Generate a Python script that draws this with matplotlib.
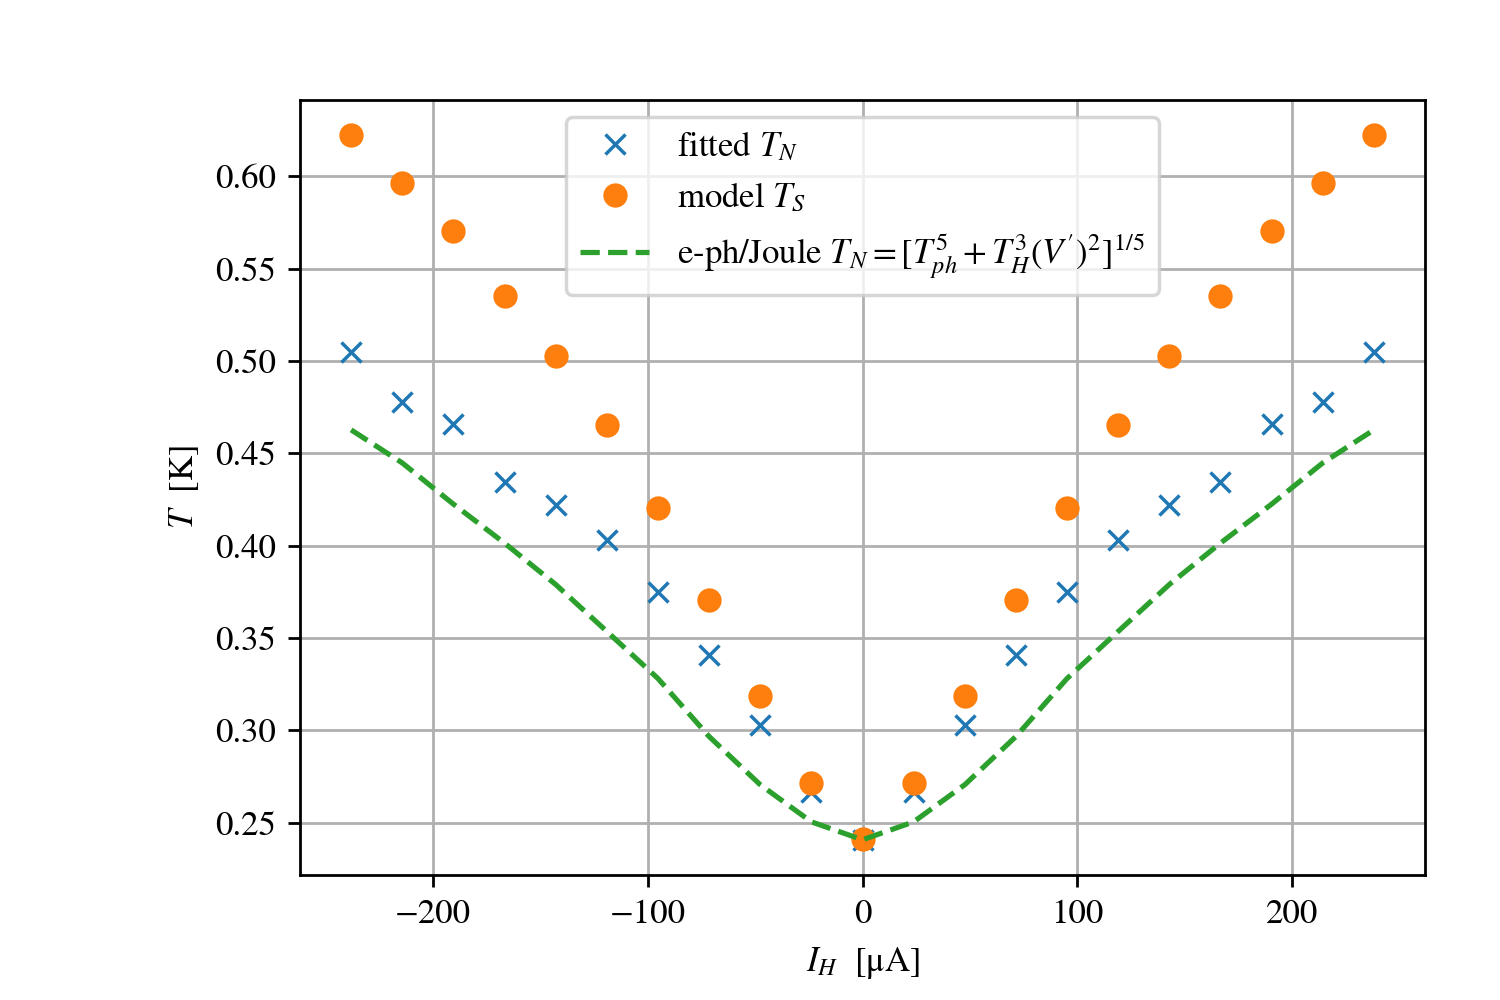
import numpy as np
import matplotlib
matplotlib.use("Agg")
import matplotlib.pyplot as plt

plt.rcParams["font.family"] = "serif"
plt.rcParams["font.serif"] = ["STIXGeneral", "Liberation Serif", "DejaVu Serif"]
plt.rcParams["mathtext.fontset"] = "stix"

# heater current (uA)
I_H = [-238.0, -214.2, -190.4, -166.6, -142.8, -119.0, -95.2, -71.4, -47.6, -23.8,
       0.0, 23.8, 47.6, 71.4, 95.2, 119.0, 142.8, 166.6, 190.4, 214.2, 238.0]

# half curves (negative side up to zero), mirrored below
fitted_half = [0.505, 0.478, 0.466, 0.4345, 0.422, 0.403, 0.3748, 0.3406, 0.3032, 0.2668, 0.2408]
model_half = [0.6222, 0.5962, 0.5701, 0.5349, 0.5029, 0.4654, 0.4204, 0.3705, 0.3184, 0.2717, 0.2413]
joule_half = [0.4627, 0.4448, 0.4225, 0.4014, 0.379, 0.3536, 0.3281, 0.2967, 0.2706, 0.2505, 0.2408]

fitted_TN = fitted_half + fitted_half[-2::-1]
model_TS = model_half + model_half[-2::-1]
joule_TN = joule_half + joule_half[-2::-1]

fig, ax = plt.subplots(figsize=(6, 4), dpi=250)
fig.subplots_adjust(left=0.2, right=0.95, top=0.9, bottom=0.125)

ax.plot(I_H, fitted_TN, "x", label=r"fitted $T_N$")
ax.plot(I_H, model_TS, "o", label=r"model $T_S$")
ax.plot(I_H, joule_TN, "--", label=r"e-ph/Joule $T_N=[T_{ph}^5+T_H^3(V')^2]^{1/5}$")

ax.set_xlabel(r"$I_H$  [μA]")
ax.set_ylabel(r"$T$  [K]")
ax.grid(True)
ax.legend(loc="upper center")

fig.savefig("out.png")
